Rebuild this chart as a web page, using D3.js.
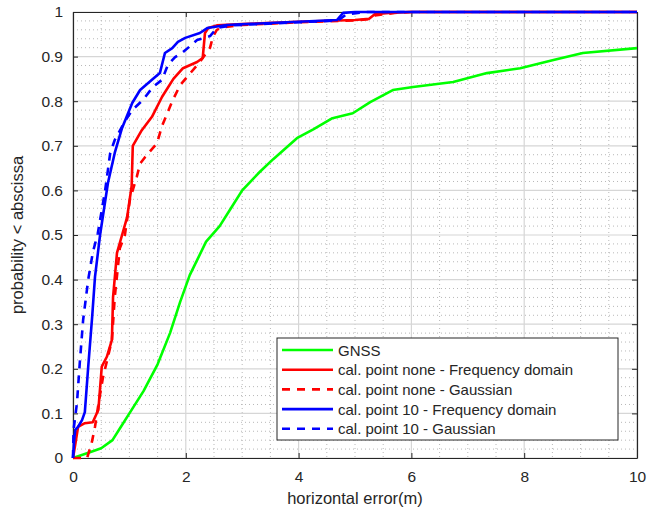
<!DOCTYPE html>
<html>
<head>
<meta charset="utf-8">
<script src="https://cdn.jsdelivr.net/npm/d3@7"></script>
<style>
  body { margin: 0; background: #fff; }
  text { font-family: "Liberation Sans", Arial, sans-serif; fill: #262626; }
</style>
</head>
<body>
<div id="main"></div>
<script>
const ctx = {
    w: 659,
    h: 512,
    left: 73,
    right: 637,
    top: 12,
    bottom: 458,
    LINE_W: 2.6
};

// [horizontal error (m), probability]
const gnss = [[0,0],[0.3,0.013],[0.5,0.022],[0.7,0.04],[0.85,0.07],[1.0,0.1],[1.25,0.15],[1.5,0.21],
    [1.72,0.28],[1.9,0.35],[2.07,0.41],[2.36,0.485],[2.6,0.52],[2.8,0.56],[3.0,0.6],[3.3,0.64],
    [3.55,0.67],[3.97,0.717],[4.26,0.737],[4.6,0.762],[4.96,0.773],[5.27,0.798],[5.67,0.825],
    [6.03,0.832],[6.74,0.843],[7.34,0.863],[7.93,0.874],[8.5,0.892],[9.04,0.908],[10,0.919]];

const noneFreq = [[0,0],[0.04,0.03],[0.09,0.07],[0.21,0.078],[0.35,0.08],[0.45,0.108],[0.51,0.205],
    [0.6,0.227],[0.69,0.265],[0.71,0.36],[0.78,0.46],[0.87,0.5],[0.96,0.54],[1.04,0.61],[1.06,0.7],
    [1.22,0.735],[1.4,0.765],[1.58,0.81],[1.78,0.85],[1.95,0.874],[2.2,0.888],[2.3,0.897],[2.34,0.953],
    [2.4,0.964],[2.55,0.97],[3,0.973],[4,0.978],[5,0.982],[5.25,0.985],[5.35,0.995],[5.6,0.998],[6,1],[10,1]];

const noneGauss = [[0,0],[0.25,0],[0.33,0.033],[0.39,0.07],[0.45,0.12],[0.53,0.18],[0.62,0.227],
    [0.69,0.265],[0.74,0.36],[0.83,0.47],[0.92,0.5],[1.01,0.58],[1.13,0.63],[1.19,0.66],[1.28,0.675],
    [1.49,0.706],[1.58,0.745],[1.76,0.8],[1.9,0.836],[2.02,0.854],[2.25,0.888],[2.43,0.92],[2.48,0.944],
    [2.55,0.96],[2.66,0.966],[3,0.971],[4,0.977],[5,0.981],[5.25,0.984],[5.35,0.992],[5.7,0.998],[6,1],[10,1]];

const tenFreq = [[0,0],[0.02,0.04],[0.04,0.063],[0.09,0.07],[0.16,0.085],[0.21,0.103],[0.27,0.205],
    [0.34,0.317],[0.39,0.406],[0.48,0.5],[0.62,0.617],[0.74,0.684],[0.87,0.74],[1.05,0.796],[1.19,0.825],
    [1.4,0.848],[1.54,0.863],[1.63,0.908],[1.76,0.919],[1.86,0.933],[1.99,0.942],[2.25,0.953],[2.38,0.964],
    [2.73,0.971],[2.9,0.972],[4.68,0.982],[4.79,0.998],[5,1],[10,1]];

const tenGauss = [[0,0],[0.01,0.063],[0.07,0.123],[0.12,0.213],[0.18,0.31],[0.27,0.4],[0.35,0.46],
    [0.44,0.504],[0.57,0.6],[0.66,0.684],[0.74,0.713],[0.92,0.755],[1.05,0.78],[1.24,0.803],[1.42,0.832],
    [1.58,0.848],[1.68,0.881],[1.81,0.899],[1.95,0.91],[2.2,0.937],[2.43,0.946],[2.55,0.964],[2.8,0.97],
    [4.7,0.981],[4.85,0.995],[5.2,1],[10,1]];

const series = [
    {name: "GNSS", data: gnss, color: "#00ff00", dash: null},
    {name: "cal. point none - Frequency domain", data: noneFreq, color: "#ff0000", dash: null},
    {name: "cal. point none - Gaussian", data: noneGauss, color: "#ff0000", dash: "8,7"},
    {name: "cal. point 10 - Frequency domain", data: tenFreq, color: "#0000ff", dash: null},
    {name: "cal. point 10 - Gaussian", data: tenGauss, color: "#0000ff", dash: "8,7"}
];

const xTicks = [0, 2, 4, 6, 8, 10];
const yTicks = [0, 0.1, 0.2, 0.3, 0.4, 0.5, 0.6, 0.7, 0.8, 0.9, 1];

function createViz(){
    let svgEl = d3.select("#main").append("svg")
        .attr("width", ctx.w).attr("height", ctx.h);

    let x = d3.scaleLinear().domain([0, 10]).range([ctx.left, ctx.right]);
    let y = d3.scaleLinear().domain([0, 1]).range([ctx.bottom, ctx.top]);

    // minor grid (dotted)
    let gridG = svgEl.append("g");
    let xMinor = d3.range(0, 10.001, 0.5).filter((v) => (Math.abs(v / 2 - Math.round(v / 2)) > 1e-6));
    let yMinor = d3.range(0, 1.0001, 0.02).filter((v) => (Math.abs(v * 10 - Math.round(v * 10)) > 1e-6));
    gridG.selectAll(".xm").data(xMinor).enter().append("line")
        .attr("x1", (d) => x(d)).attr("x2", (d) => x(d))
        .attr("y1", ctx.top).attr("y2", ctx.bottom)
        .attr("stroke", "#b8b8b8").attr("stroke-width", 1)
        .attr("stroke-dasharray", "1,3");
    gridG.selectAll(".ym").data(yMinor).enter().append("line")
        .attr("x1", ctx.left).attr("x2", ctx.right)
        .attr("y1", (d) => y(d)).attr("y2", (d) => y(d))
        .attr("stroke", "#b8b8b8").attr("stroke-width", 1)
        .attr("stroke-dasharray", "1,3");

    // major grid
    gridG.selectAll(".xg").data(xTicks).enter().append("line")
        .attr("x1", (d) => x(d)).attr("x2", (d) => x(d))
        .attr("y1", ctx.top).attr("y2", ctx.bottom)
        .attr("stroke", "#d6d6d6").attr("stroke-width", 1.2);
    gridG.selectAll(".yg").data(yTicks).enter().append("line")
        .attr("x1", ctx.left).attr("x2", ctx.right)
        .attr("y1", (d) => y(d)).attr("y2", (d) => y(d))
        .attr("stroke", "#d6d6d6").attr("stroke-width", 1.2);

    // axes (box on, ticks inward)
    let fmtY = (d) => (d === 0 || d === 1 ? d3.format("d")(d) : d3.format(".1f")(d));
    svgEl.append("g")
        .attr("transform", `translate(0,${ctx.bottom})`)
        .call(d3.axisBottom(x).tickValues(xTicks).tickSizeInner(-5).tickSizeOuter(0).tickPadding(13))
        .call(styleAxis);
    svgEl.append("g")
        .attr("transform", `translate(0,${ctx.top})`)
        .call(d3.axisTop(x).tickValues(xTicks).tickSizeInner(-5).tickSizeOuter(0).tickFormat(""))
        .call(styleAxis);
    svgEl.append("g")
        .attr("transform", `translate(${ctx.left},0)`)
        .call(d3.axisLeft(y).tickValues(yTicks).tickSizeInner(-5).tickSizeOuter(0).tickPadding(10).tickFormat(fmtY))
        .call(styleAxis);
    svgEl.append("g")
        .attr("transform", `translate(${ctx.right},0)`)
        .call(d3.axisRight(y).tickValues(yTicks).tickSizeInner(-5).tickSizeOuter(0).tickFormat(""))
        .call(styleAxis);

    // curves
    svgEl.append("clipPath").attr("id", "clip").append("rect")
        .attr("x", ctx.left - 2).attr("y", ctx.top - 2)
        .attr("width", ctx.right - ctx.left + 4).attr("height", ctx.bottom - ctx.top + 4);
    let line = d3.line().x((d) => x(d[0])).y((d) => y(d[1]));
    svgEl.append("g").attr("clip-path", "url(#clip)")
        .selectAll("path").data(series).enter().append("path")
        .attr("d", (d) => line(d.data))
        .attr("fill", "none")
        .attr("stroke", (d) => d.color)
        .attr("stroke-width", ctx.LINE_W)
        .attr("stroke-linejoin", "round")
        .attr("stroke-dasharray", (d) => d.dash);

    // axis labels
    svgEl.append("text")
        .attr("x", (ctx.left + ctx.right) / 2).attr("y", 504)
        .attr("text-anchor", "middle").style("font-size", "16.5px")
        .text("horizontal error(m)");
    svgEl.append("text")
        .attr("transform", `translate(23,${(ctx.top + ctx.bottom) / 2}) rotate(-90)`)
        .attr("text-anchor", "middle").style("font-size", "16.5px")
        .text("probability < abscissa");

    // legend
    let lg = svgEl.append("g").attr("transform", "translate(277,338)");
    lg.append("rect").attr("width", 341).attr("height", 102)
        .attr("fill", "#fff").attr("stroke", "#262626").attr("stroke-width", 1);
    let rows = lg.selectAll(".row").data(series).enter().append("g")
        .attr("transform", (d, i) => `translate(0,${12 + i * 19.7})`);
    rows.append("line")
        .attr("x1", 5).attr("x2", 56).attr("y1", 0).attr("y2", 0)
        .attr("stroke", (d) => d.color).attr("stroke-width", ctx.LINE_W)
        .attr("stroke-dasharray", (d) => d.dash);
    rows.append("text")
        .attr("x", 61).attr("y", 5.5)
        .style("font-size", "15px")
        .text((d) => d.name);
}

function styleAxis(g){
    g.select(".domain").attr("stroke", "#262626").attr("stroke-width", 1.2);
    g.selectAll(".tick line").attr("stroke", "#262626");
    g.selectAll(".tick text").style("font-size", "15.5px").attr("fill", "#262626")
        .style("font-family", "'Liberation Sans', Arial, sans-serif");
}

createViz();
</script>
</body>
</html>
